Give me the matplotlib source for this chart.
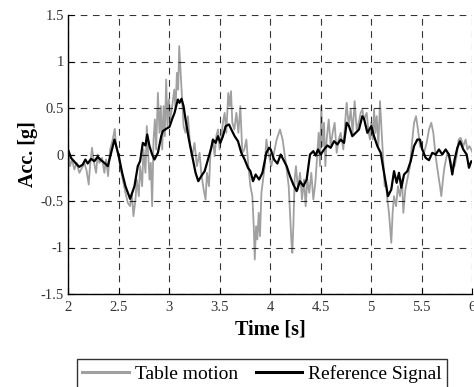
import matplotlib
matplotlib.use("Agg")
import matplotlib.pyplot as plt

# Reference signal (black)
ref_t = [2.000, 2.030, 2.079, 2.112, 2.146, 2.172, 2.195, 2.228, 2.261, 2.294, 2.327, 2.360, 2.394, 2.427,
         2.460, 2.476, 2.503, 2.536, 2.569, 2.615, 2.658, 2.691, 2.714, 2.741, 2.767, 2.784, 2.807, 2.833,
         2.856, 2.890, 2.923, 2.939, 2.972, 3.005, 3.032, 3.055, 3.071, 3.088, 3.104, 3.124, 3.144, 3.164,
         3.197, 3.230, 3.263, 3.290, 3.319, 3.353, 3.386, 3.419, 3.435, 3.462, 3.485, 3.508, 3.534, 3.561,
         3.594, 3.617, 3.650, 3.683, 3.716, 3.749, 3.782, 3.806, 3.832, 3.858, 3.892, 3.925, 3.964, 3.991,
         4.007, 4.040, 4.073, 4.106, 4.132, 4.165, 4.198, 4.231, 4.264, 4.297, 4.330, 4.363, 4.396, 4.429,
         4.452, 4.475, 4.502, 4.535, 4.568, 4.601, 4.634, 4.667, 4.700, 4.733, 4.759, 4.782, 4.815, 4.848,
         4.881, 4.914, 4.931, 4.964, 5.003, 5.030, 5.063, 5.096, 5.129, 5.168, 5.201, 5.228, 5.254, 5.277,
         5.300, 5.327, 5.360, 5.393, 5.426, 5.459, 5.485, 5.508, 5.541, 5.574, 5.607, 5.640, 5.673, 5.706,
         5.739, 5.772, 5.805, 5.828, 5.855, 5.881, 5.914, 5.947, 5.970, 5.993, 6.020]
ref_v = [0.054, -0.036, -0.097, -0.133, -0.108, -0.054, -0.097, -0.047, -0.072, -0.025, -0.061, -0.090, -0.125, 0.018,
         0.161, 0.097, -0.018, -0.197, -0.341, -0.477, -0.341, -0.125, -0.072, 0.125, 0.097, 0.215, 0.090, 0.000,
         -0.054, 0.018, 0.197, 0.251, 0.276, 0.297, 0.384, 0.448, 0.520, 0.591, 0.556, 0.599, 0.520, 0.376,
         0.161, -0.018, -0.197, -0.287, -0.233, -0.179, -0.054, 0.072, 0.161, 0.125, 0.197, 0.125, 0.197, 0.305,
         0.323, 0.269, 0.197, 0.143, 0.018, -0.054, -0.143, -0.179, -0.287, -0.215, -0.269, -0.197, 0.018, 0.072,
         0.054, -0.054, -0.097, 0.000, -0.054, -0.125, -0.233, -0.323, -0.394, -0.287, -0.341, -0.269, 0.000, 0.036,
         -0.011, 0.054, 0.000, 0.054, 0.097, 0.072, 0.143, 0.108, 0.161, 0.125, 0.341, 0.305, 0.197, 0.233,
         0.269, 0.412, 0.384, 0.233, 0.305, 0.197, 0.090, 0.018, -0.197, -0.448, -0.376, -0.179, -0.305, -0.197,
         -0.358, -0.215, -0.179, -0.072, 0.090, 0.161, 0.161, 0.054, -0.036, -0.061, 0.018, 0.000, 0.054, 0.000,
         0.054, 0.000, -0.215, -0.054, 0.072, 0.143, 0.054, 0.000, -0.143, -0.072, -0.090]

# Table motion (gray)
tab_t = [2.000, 2.020, 2.040, 2.063, 2.086, 2.112, 2.139, 2.162, 2.185, 2.205, 2.218, 2.238, 2.255, 2.278,
         2.294, 2.311, 2.337, 2.360, 2.377, 2.397, 2.417, 2.443, 2.463, 2.476, 2.496, 2.516, 2.542, 2.569,
         2.592, 2.615, 2.632, 2.648, 2.668, 2.681, 2.701, 2.714, 2.734, 2.747, 2.767, 2.780, 2.794, 2.807,
         2.820, 2.833, 2.847, 2.860, 2.873, 2.890, 2.906, 2.919, 2.933, 2.946, 2.959, 2.972, 2.985, 2.999,
         3.012, 3.032, 3.052, 3.065, 3.078, 3.091, 3.101, 3.114, 3.128, 3.144, 3.164, 3.187, 3.210, 3.230,
         3.253, 3.276, 3.303, 3.319, 3.343, 3.362, 3.376, 3.396, 3.412, 3.435, 3.452, 3.468, 3.485, 3.501,
         3.518, 3.534, 3.551, 3.567, 3.587, 3.601, 3.614, 3.627, 3.647, 3.667, 3.687, 3.706, 3.726, 3.746,
         3.766, 3.786, 3.806, 3.825, 3.839, 3.849, 3.862, 3.875, 3.888, 3.901, 3.915, 3.931, 3.948, 3.964,
         3.984, 4.013, 4.040, 4.066, 4.099, 4.125, 4.145, 4.165, 4.185, 4.198, 4.211, 4.221, 4.231, 4.244,
         4.257, 4.277, 4.297, 4.317, 4.337, 4.353, 4.370, 4.389, 4.409, 4.429, 4.449, 4.469, 4.482, 4.495,
         4.508, 4.521, 4.535, 4.548, 4.561, 4.581, 4.601, 4.620, 4.640, 4.660, 4.680, 4.700, 4.726, 4.746,
         4.759, 4.779, 4.799, 4.818, 4.838, 4.858, 4.878, 4.898, 4.914, 4.931, 4.957, 4.977, 4.990, 5.003,
         5.017, 5.030, 5.043, 5.056, 5.073, 5.089, 5.106, 5.122, 5.135, 5.149, 5.162, 5.178, 5.188, 5.201,
         5.214, 5.228, 5.248, 5.267, 5.287, 5.307, 5.320, 5.340, 5.360, 5.386, 5.409, 5.426, 5.446, 5.465,
         5.485, 5.508, 5.525, 5.551, 5.574, 5.597, 5.617, 5.640, 5.663, 5.683, 5.696, 5.716, 5.729, 5.756,
         5.782, 5.805, 5.828, 5.848, 5.868, 5.888, 5.914, 5.937, 5.954, 5.974, 5.993, 6.013]
tab_v = [0.036, -0.125, -0.054, -0.161, -0.090, -0.197, -0.143, -0.090, -0.179, -0.323, -0.125, 0.072, -0.072, -0.197,
         0.000, -0.090, -0.036, -0.197, -0.054, -0.233, 0.054, 0.161, 0.276, 0.090, 0.000, -0.125, -0.269, -0.412,
         -0.520, -0.556, -0.412, -0.663, -0.484, -0.269, -0.448, -0.125, -0.341, 0.054, -0.197, 0.305, 0.018, -0.269,
         -0.090, -0.556, 0.161, 0.376, 0.054, 0.663, 0.233, 0.520, 0.054, 0.520, 0.197, 0.806, 0.305, 0.591,
         0.376, 0.520, 0.699, 0.484, 0.878, 0.699, 1.165, 0.914, 0.627, 0.305, 0.233, 0.412, 0.090, -0.018,
         0.125, -0.125, 0.018, -0.197, -0.376, -0.484, -0.197, -0.341, 0.054, 0.161, -0.018, 0.197, 0.269, 0.054,
         0.197, 0.341, 0.448, 0.233, 0.663, 0.520, 0.681, 0.341, 0.269, 0.448, 0.233, 0.520, 0.018, 0.054,
         0.161, -0.125, -0.341, -0.448, -0.771, -1.129, -0.771, -0.914, -0.627, -0.878, -0.412, -0.269, -0.125, 0.161,
         0.018, -0.125, 0.018, 0.161, 0.269, 0.161, 0.000, -0.161, -0.341, -0.627, -0.914, -1.057, -0.771, -0.269,
         -0.125, -0.376, -0.197, -0.484, -0.269, -0.556, -0.269, -0.412, -0.197, -0.484, -0.305, 0.018, 0.233, -0.125,
         0.520, 0.090, 0.341, -0.125, 0.161, 0.376, 0.090, 0.233, 0.341, 0.018, 0.161, 0.233, 0.054, 0.376,
         0.556, 0.305, 0.484, 0.233, 0.573, 0.269, 0.341, 0.448, 0.484, 0.376, 0.448, 0.233, 0.161, 0.341,
         0.161, 0.484, 0.233, 0.412, 0.090, 0.573, 0.233, -0.090, -0.341, -0.305, -0.484, -0.627, -0.771, -0.950,
         -0.627, -0.448, -0.556, -0.341, -0.448, -0.269, -0.627, -0.376, -0.269, -0.125, 0.161, 0.341, 0.412, 0.269,
         0.090, 0.054, 0.018, 0.125, 0.269, 0.341, 0.233, -0.018, -0.197, -0.341, -0.448, -0.233, -0.125, 0.018,
         -0.054, -0.125, -0.125, -0.018, 0.161, 0.179, 0.090, 0.161, 0.054, 0.090, 0.054, 0.000]

x_ticks = [2, 2.5, 3, 3.5, 4, 4.5, 5, 5.5, 6]
x_labels = ["2", "2.5", "3", "3.5", "4", "4.5", "5", "5.5", "6"]
y_ticks = [-1.5, -1, -0.5, 0, 0.5, 1, 1.5]
y_labels = ["-1.5", "-1", "-0.5", "0", "0.5", "1", "1.5"]

plt.rcParams['font.family'] = ['Liberation Serif', 'DejaVu Serif']

fig = plt.figure(figsize=(4.74, 3.87), dpi=100)
ax = fig.add_axes([68/474, 1-294/387, (472-68)/474, (294-15)/387])

l1, = ax.plot(tab_t, tab_v, color='#a0a0a0', lw=1.3, label='Table motion')
l2, = ax.plot(ref_t, ref_v, color='black', lw=1.6, label='Reference Signal')

ax.set_xlim(2, 6)
ax.set_ylim(-1.5, 1.5)
ax.set_xticks(x_ticks)
ax.set_xticklabels(x_labels)
ax.set_yticks(y_ticks)
ax.set_yticklabels(y_labels)
ax.tick_params(direction='in', length=4, width=0.8, labelsize=10.5, colors='black',
               labelcolor='#333333')
ax.tick_params(axis='x', pad=5)
ax.tick_params(axis='y', pad=3)
ax.grid(True, linestyle=(0, (6, 5)), color='black', lw=0.8, alpha=0.8)
for s in ['top', 'right']:
    ax.spines[s].set_visible(False)
for s in ['left', 'bottom']:
    ax.spines[s].set_linewidth(1.0)
ax.set_axisbelow(False)

ax.set_xlabel('Time [s]', fontsize=14.5, fontweight='bold', labelpad=4)
ax.set_ylabel('Acc. [g]', fontsize=14.5, fontweight='bold', labelpad=2)

leg = fig.legend(handles=[l1, l2], loc='upper center', bbox_to_anchor=(262/474, 1-359/387),
                 ncol=2, fontsize=14, frameon=True, fancybox=False, edgecolor='black',
                 handlelength=2.4, handletextpad=0.3, columnspacing=0.9, borderpad=0.3,
                 borderaxespad=0)
leg.get_frame().set_linewidth(1.0)
for line in leg.get_lines():
    line.set_linewidth(2.2)

fig.savefig('out.png', dpi=100)
